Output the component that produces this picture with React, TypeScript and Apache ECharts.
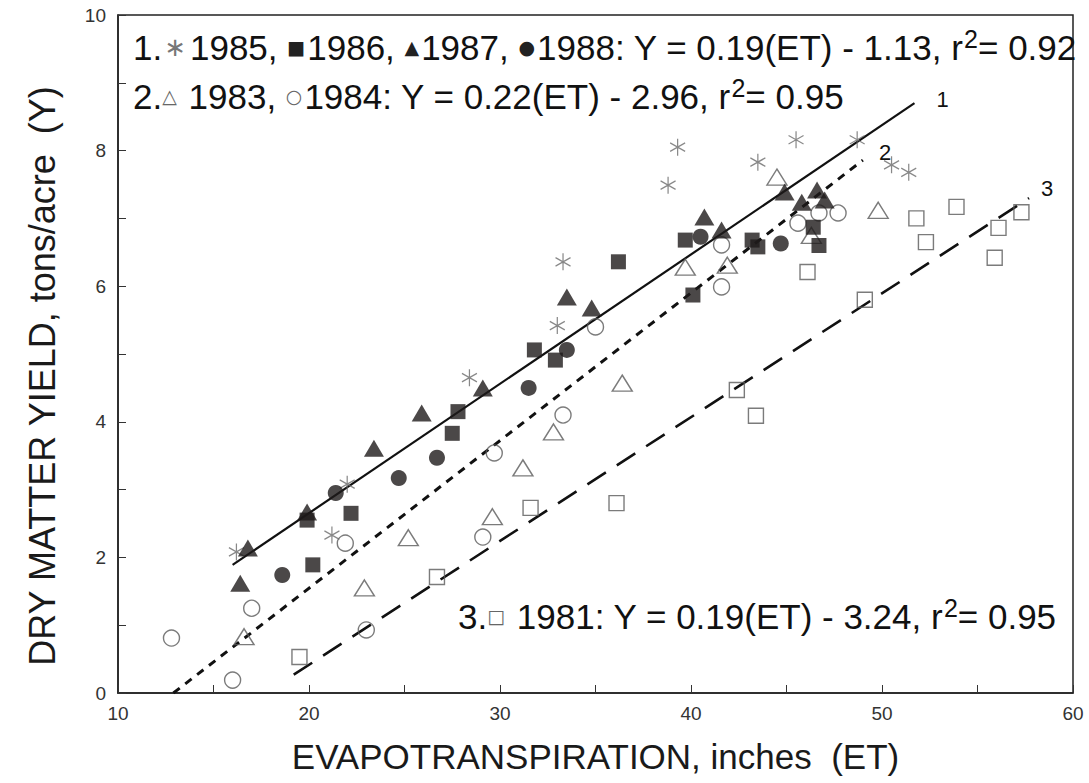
import React, { useEffect, useRef } from "react";
import * as echarts from "echarts";

// ---- Data ----
const et1985 = [16.2, 21.2, 22.0, 28.4, 33.0, 33.3, 38.8, 39.3, 43.5, 45.5, 48.7, 50.5, 51.4];
const y1985 = [2.08, 2.33, 3.08, 4.65, 5.42, 6.36, 7.49, 8.05, 7.83, 8.16, 8.16, 7.79, 7.68];

const et1986 = [19.9, 20.2, 22.2, 27.5, 27.8, 31.8, 32.9, 36.2, 39.7, 40.1, 43.2, 43.5, 46.4, 46.7];
const y1986 = [2.55, 1.89, 2.65, 3.83, 4.15, 5.06, 4.91, 6.36, 6.68, 5.87, 6.68, 6.58, 6.87, 6.6];

const et1987 = [16.4, 16.8, 19.9, 23.4, 25.9, 29.1, 33.5, 34.8, 40.7, 41.6, 44.9, 45.8, 46.6, 47.0];
const y1987 = [1.62, 2.14, 2.67, 3.61, 4.13, 4.5, 5.84, 5.68, 7.02, 6.83, 7.39, 7.24, 7.42, 7.27];

const et1988 = [18.6, 21.4, 24.7, 26.7, 31.5, 33.5, 40.5, 44.7];
const y1988 = [1.74, 2.95, 3.17, 3.47, 4.5, 5.06, 6.73, 6.63];

const et1983 = [16.6, 22.9, 25.2, 29.6, 31.2, 32.8, 36.4, 39.7, 41.9, 44.5, 46.3, 49.8];
const y1983 = [0.83, 1.55, 2.29, 2.6, 3.32, 3.85, 4.57, 6.28, 6.31, 7.61, 6.75, 7.12];

const et1984 = [12.8, 16.0, 17.0, 21.9, 23.0, 29.1, 29.7, 33.3, 35.0, 41.6, 41.6, 45.6, 46.7, 47.7];
const y1984 = [0.81, 0.19, 1.25, 2.21, 0.93, 2.3, 3.54, 4.1, 5.4, 5.99, 6.61, 6.93, 7.08, 7.08];

const et1981 = [19.5, 26.7, 31.6, 36.1, 42.4, 43.4, 46.1, 49.1, 51.8, 52.3, 53.9, 55.9, 56.1, 57.3];
const y1981 = [0.53, 1.71, 2.73, 2.8, 4.47, 4.09, 6.21, 5.8, 7.0, 6.65, 7.17, 6.42, 6.86, 7.09];

// regression lines as drawn (end points)
const line1ET = [16.0, 51.7];
const line1Y = [1.89, 8.7];
const line2ET = [12.9, 49.0];
const line2Y = [0.0, 7.86];
const line3ET = [19.2, 57.7];
const line3Y = [0.27, 7.3];

const lineNames = ["1", "2", "3"];

const xTicks = { min: 10, max: 60, step: 10 };
const yTicks = { min: 0, max: 10, step: 2 };

const eq1 = "Y = 0.19(ET) - 1.13, r";
const eq1r = "= 0.92";
const eq2 = "Y = 0.22(ET) - 2.96, r";
const eq2r = "= 0.95";
const eq3 = "Y = 0.19(ET) - 3.24, r";
const eq3r = "= 0.95";

const xName = "EVAPOTRANSPIRATION, inches  (ET)";
const yName = "DRY MATTER YIELD, tons/acre  (Y)";

const zip = (xs: number[], ys: number[]) => xs.map((x, i) => [x, ys[i]]);

const FONT = "'Liberation Sans', Arial, Helvetica, sans-serif";
const SYMFONT = "'DejaVu Sans', sans-serif";
const ASTERISK = "path://M10,0L10,20M1.34,5L18.66,15M1.34,15L18.66,5";

const filled = { color: "#1e1a1a" };
const open = { color: "rgba(0,0,0,0)", borderColor: "#5a5a5a", borderWidth: 1.4 };

export default function App() {
  const ref = useRef<HTMLDivElement>(null);

  useEffect(() => {
    if (!ref.current) return;
    const chart = echarts.init(ref.current, undefined, { renderer: "svg" });

    const rich = {
      sym: { fontFamily: SYMFONT, fontSize: 19, fill: "#222", padding: [0, 2, 0, 0] },
      gsym: { fontFamily: SYMFONT, fontSize: 19, fill: "#666", padding: [0, 2, 0, 0] },
      ast: { fontFamily: SYMFONT, fontSize: 26, fill: "#777", padding: [0, 4, 0, 2] },
      sup: { fontFamily: FONT, fontSize: 25, fill: "#111", verticalAlign: "top", lineHeight: 8 },
    };
    const baseText = {
      fontFamily: FONT,
      fontSize: 35,
      lineHeight: 42,
      fill: "#111",
      verticalAlign: "middle",
      align: "left",
      rich,
    };

    const option: any = {
      animation: false,
      backgroundColor: "#ffffff",
      grid: {
        left: 118,
        right: 16,
        top: 15,
        bottom: 90,
        show: true,
        borderColor: "#222",
        borderWidth: 1.5,
        backgroundColor: "transparent",
      },
      xAxis: {
        type: "value",
        min: xTicks.min,
        max: xTicks.max,
        interval: xTicks.step,
        name: xName,
        nameLocation: "middle",
        nameGap: 46,
        nameTextStyle: { fontFamily: FONT, fontSize: 35, color: "#1a1a1a" },
        axisLine: { show: true, lineStyle: { color: "#222", width: 1.5 } },
        axisTick: { show: true, inside: true, length: 8, lineStyle: { color: "#333", width: 1 } },
        minorTick: { show: true, splitNumber: 2, length: 8, lineStyle: { color: "#333", width: 1 } },
        splitLine: { show: false },
        axisLabel: { fontFamily: FONT, fontSize: 19, color: "#333", margin: 11 },
      },
      yAxis: {
        type: "value",
        min: yTicks.min,
        max: yTicks.max,
        interval: yTicks.step,
        name: yName,
        nameLocation: "middle",
        nameGap: 58,
        nameTextStyle: { fontFamily: FONT, fontSize: 36, color: "#1a1a1a", padding: [0, 44, 0, 0] },
        axisLine: { show: true, lineStyle: { color: "#222", width: 1.5 } },
        axisTick: { show: true, inside: true, length: 8, lineStyle: { color: "#333", width: 1 } },
        minorTick: { show: true, splitNumber: 2, length: 8, lineStyle: { color: "#333", width: 1 } },
        splitLine: { show: false },
        axisLabel: { fontFamily: FONT, fontSize: 19, color: "#333", margin: 12 },
      },
      series: [
        {
          type: "line",
          data: zip(line1ET, line1Y),
          showSymbol: false,
          lineStyle: { color: "#111", width: 2.2, type: "solid" },
          endLabel: { show: true, formatter: lineNames[0], fontFamily: FONT, fontSize: 22, color: "#111", offset: [14, -4] },
          z: 1,
        },
        {
          type: "line",
          data: zip(line2ET, line2Y),
          showSymbol: false,
          lineStyle: { color: "#111", width: 3, type: [8, 7] },
          endLabel: { show: true, formatter: lineNames[1], fontFamily: FONT, fontSize: 22, color: "#111", offset: [8, -8] },
          z: 1,
        },
        {
          type: "line",
          data: zip(line3ET, line3Y),
          showSymbol: false,
          lineStyle: { color: "#111", width: 2.6, type: [22, 13] },
          endLabel: { show: true, formatter: lineNames[2], fontFamily: FONT, fontSize: 22, color: "#111", offset: [4, -10] },
          z: 1,
        },
        {
          name: "1981",
          type: "scatter",
          data: zip(et1981, y1981),
          symbol: "rect",
          symbolSize: 15,
          itemStyle: open,
          z: 3,
        },
        {
          name: "1983",
          type: "scatter",
          data: zip(et1983, y1983),
          symbol: "triangle",
          symbolSize: [20, 16],
          itemStyle: open,
          z: 3,
        },
        {
          name: "1984",
          type: "scatter",
          data: zip(et1984, y1984),
          symbol: "circle",
          symbolSize: 16,
          itemStyle: open,
          z: 3,
        },
        {
          name: "1985",
          type: "scatter",
          data: zip(et1985, y1985),
          symbol: ASTERISK,
          symbolSize: [15, 17],
          itemStyle: { color: "rgba(0,0,0,0)", borderColor: "#6a6a6a", borderWidth: 1.3 },
          z: 3,
        },
        {
          name: "1986",
          type: "scatter",
          data: zip(et1986, y1986),
          symbol: "rect",
          symbolSize: 15,
          itemStyle: filled,
          z: 4,
        },
        {
          name: "1987",
          type: "scatter",
          data: zip(et1987, y1987),
          symbol: "triangle",
          symbolSize: [20, 17],
          itemStyle: filled,
          z: 4,
        },
        {
          name: "1988",
          type: "scatter",
          data: zip(et1988, y1988),
          symbol: "circle",
          symbolSize: 16,
          itemStyle: filled,
          z: 4,
        },
      ],
      graphic: [
        {
          type: "text",
          x: 133,
          y: 47,
          z: 10,
          style: {
            ...baseText,
            text: "1.{ast|\u2217}1985, {sym|\u25A0}1986, {sym|\u25B2}1987, {sym|\u25CF}1988: " + eq1 + "{sup|2}" + eq1r,
          },
        },
        {
          type: "text",
          x: 133,
          y: 96,
          z: 10,
          style: {
            ...baseText,
            text: "2.{gsym|\u25B3} 1983, {gsym|\u25CB}1984: " + eq2 + "{sup|2}" + eq2r,
          },
        },
        {
          type: "text",
          x: 458,
          y: 616,
          z: 10,
          style: {
            ...baseText,
            text: "3.{gsym|\u25A1} 1981: " + eq3 + "{sup|2}" + eq3r,
          },
        },
      ],
    };

    chart.setOption(option);
    return () => chart.dispose();
  }, []);

  return (
    <div
      ref={ref}
      style={{ position: "absolute", left: 0, top: 0, width: 1089, height: 783, background: "#fff" }}
    />
  );
}
